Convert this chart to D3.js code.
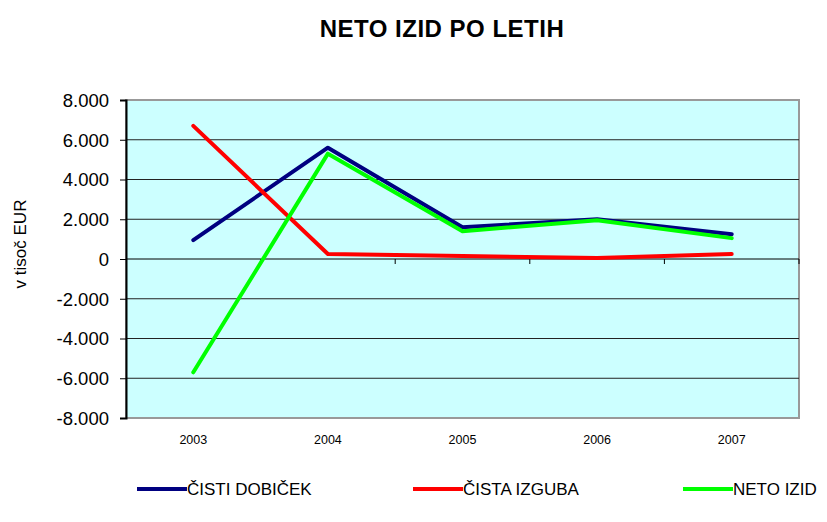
<html>
<head>
<script src="https://d3js.org/d3.v7.min.js"></script>
<style>
body { margin: 0; background: #fff; }
svg text { font-family: Arial, "Liberation Sans", Helvetica, sans-serif; fill: #000; }
</style>
</head>
<body>
<svg id="chart" width="827" height="522"></svg>
<script>
// data
var years = ['2003', '2004', '2005', '2006', '2007'];
var cistiDobicek = [950, 5600, 1600, 2000, 1250];
var cistaIzguba = [6700, 250, 150, 50, 250];
var netoIzid = [-5700, 5300, 1400, 1950, 1050];
var yTicks = [-8000, -6000, -4000, -2000, 0, 2000, 4000, 6000, 8000];

var series = [
	{ name: 'ČISTI DOBIČEK', values: cistiDobicek, color: '#000080' },
	{ name: 'ČISTA IZGUBA', values: cistaIzguba, color: '#FF0000' },
	{ name: 'NETO IZID', values: netoIzid, color: '#00FF00' }
];

var p = { left: 126, top: 100, right: 799, bottom: 418 };
var svg = d3.select('#chart');

var x = d3.scaleBand().domain(years).range([p.left, p.right]);
var y = d3.scaleLinear().domain([-8000, 8000]).range([p.bottom, p.top]);
// thousands with a dot, plain hyphen for minus
var fmt = function(d) {
	var s = Math.abs(d) >= 1000 ? Math.floor(Math.abs(d) / 1000) + '.' + ('00' + Math.abs(d) % 1000).slice(-3) : '' + Math.abs(d);
	return (d < 0 ? '-' : '') + s;
};

// plot background
svg.append('rect')
	.attr('x', p.left).attr('y', p.top)
	.attr('width', p.right - p.left).attr('height', p.bottom - p.top)
	.attr('fill', '#CCFFFF')
	.attr('stroke', '#999').attr('stroke-width', 2);

// grid lines
svg.selectAll('.grid')
	.data(yTicks.filter(function(d) { return d > -8000 && d < 8000 && d !== 0; }))
	.enter().append('line')
	.attr('x1', p.left).attr('x2', p.right)
	.attr('y1', function(d) { return y(d); })
	.attr('y2', function(d) { return y(d); })
	.attr('stroke', '#222').attr('stroke-width', 1);

// y axis
var yAxis = svg.append('g')
	.attr('transform', 'translate(' + p.left + ',0)')
	.call(d3.axisLeft(y).tickValues(yTicks).tickSize(6).tickPadding(11).tickFormat(fmt));
yAxis.select('.domain').attr('stroke', '#000').attr('stroke-width', 2);
yAxis.selectAll('.tick line').attr('stroke', '#000');
yAxis.selectAll('text').style('font-size', '18.5px').attr('fill', '#000').attr('dy', '0.34em');

// x axis at zero, ticks at category boundaries
var xAxis = svg.append('g')
	.attr('transform', 'translate(0,' + y(0) + ')');
xAxis.append('line')
	.attr('x1', p.left).attr('x2', p.right)
	.attr('stroke', '#000').attr('stroke-width', 1);
xAxis.selectAll('.xtick')
	.data(years.slice(1).map(function(d) { return x(d); }).concat([p.right]))
	.enter().append('line')
	.attr('x1', function(d) { return d; }).attr('x2', function(d) { return d; })
	.attr('y1', 0).attr('y2', 5)
	.attr('stroke', '#000');

svg.selectAll('.xlabel')
	.data(years)
	.enter().append('text')
	.attr('x', function(d) { return x(d) + x.bandwidth() / 2; })
	.attr('y', 444)
	.attr('text-anchor', 'middle')
	.style('font-size', '12.5px')
	.text(function(d) { return d; });

// lines
var line = d3.line()
	.x(function(d, i) { return x(years[i]) + x.bandwidth() / 2; })
	.y(function(d) { return y(d); });

series.forEach(function(s) {
	svg.append('path')
		.datum(s.values)
		.attr('d', line)
		.attr('fill', 'none')
		.attr('stroke', s.color)
		.attr('stroke-width', 4)
		.attr('stroke-linecap', 'round')
		.attr('stroke-linejoin', 'round');
});

// titles
svg.append('text')
	.attr('x', 442).attr('y', 37)
	.attr('text-anchor', 'middle')
	.style('font-size', '24px').style('font-weight', 'bold')
	.style('letter-spacing', '0.5px')
	.text('NETO IZID PO LETIH');

svg.append('text')
	.attr('transform', 'translate(26,244) rotate(-90)')
	.attr('text-anchor', 'middle')
	.style('font-size', '17px')
	.text('v tisoč EUR');

// legend
var legendX = [137, 413, 683];
var legend = svg.selectAll('.legend')
	.data(series)
	.enter().append('g')
	.attr('transform', function(d, i) { return 'translate(' + legendX[i] + ',489)'; });
legend.append('line')
	.attr('x1', 0).attr('x2', 50)
	.attr('stroke', function(d) { return d.color; })
	.attr('stroke-width', 4);
legend.append('text')
	.attr('x', 50).attr('y', 6)
	.style('font-size', '17px')
	.text(function(d) { return d.name; });
</script>
</body>
</html>
